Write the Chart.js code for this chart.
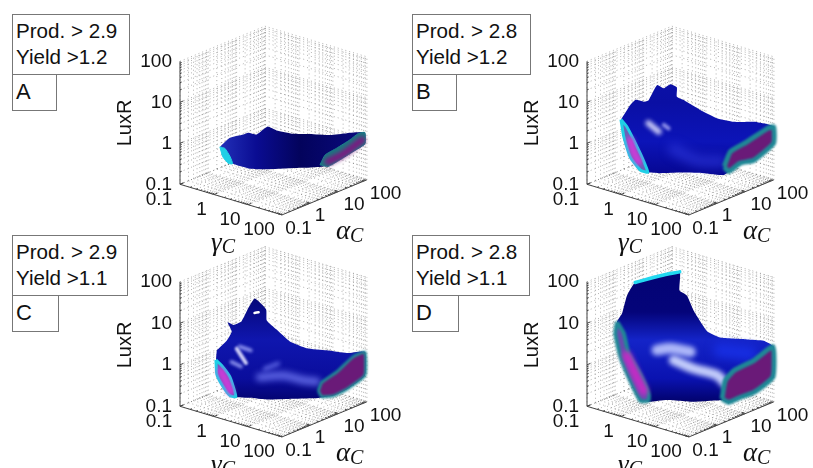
<!DOCTYPE html>
<html>
<head>
<meta charset="utf-8">
<script src="https://cdn.jsdelivr.net/npm/chart.js@4"></script>
<style>
html, body { margin: 0; background: #fff; }
#page { position: relative; width: 813px; height: 468px; overflow: hidden; font-family: "Liberation Sans", sans-serif; color: #111; }
canvas { position: absolute; filter: blur(0.35px); }
.box { position: absolute; box-sizing: border-box; border: 1px solid #777; background: #fff; font-size: 20.6px; line-height: 26px; padding: 3px 0 0 3px; white-space: nowrap; }
.tag { font-size: 22px; padding-top: 4px; }
</style>
</head>
<body>
<div id="page"></div>
<script>
// all surface numbers are log10 of the value
const gammaTicks = [0.1, 1, 10, 100];
const alphaTicks = [0.1, 1, 10, 100];
const luxRTicks = [0.1, 1, 10, 100];

// panel A
const bodyA_gamma = [-1.07, -.78, -.39, -.24, .01, .33, .59, 1.08, 1.57, .91, 1.41, 1.94, 1.94, 1.41, 1.01, .67, 1.28, .30, -.19, -.73, -.93];
const bodyA_alpha = [.5, .5, .5, .5, .5, .5, .5, .5, .5, 2, 2, 2, 2, 2, 2, 2, .5, .5, .5, .5, .5];
const bodyA_luxR = [-.53, -.24, -.06, .02, .04, .31, .28, .32, .44, -.18, -.01, .14, -.14, -.54, -.84, -1.01, -.46, -.74, -.85, -.85, -.74];
const rightCapA_gamma = [.62, .77, 1.11, 1.5, 1.75, 1.94, 1.94, 1.6, 1.21, .86];
const rightCapA_luxR = [-.98, -.70, -.45, -.15, .07, .14, -.14, -.41, -.71, -.96];
const rightCoreA_gamma = [.86, 1.31, 1.85];
const rightCoreA_luxR = [-.84, -.54, -.07];
const leftCapA_alpha = [.41, .59, .77, .86, .71, .51];
const leftCapA_luxR = [-.49, -.58, -.83, -1.03, -.98, -.76];

// panel B
const bodyB_gamma = [-.83, -.56, -.41, -.16, -.02, .23, .42, .62, .81, .81, 1.01, 1.21, 1.5, 1.99, .82, 1.41, 1.8, 1.99, 1.99, 1.41, 1.01, 1.77, 1.08, .49, -.09, -.49, -.88, -.75];
const bodyB_alpha = [0, 0, 0, 0, 0, 0, 0, 0, 0, 0, 0, 0, 0, 0, 2, 2, 2, 2, 2, 2, 2, .5, .5, .5, .5, .5, .5, 0];
const bodyB_luxR = [.34, .76, .92, .94, 1.01, 1.44, 1.41, 1.56, 1.53, 1.30, 1.27, 1.22, 1.15, 1.07, .12, .27, .31, .29, -.11, -.67, -.84, -.51, -.63, -.77, -.93, -1, -.89, -.14];
const rightCapB_gamma = [.54, .72, 1.21, 1.8, 1.99, 1.99, 1.41, 1.01, .67];
const rightCapB_luxR = [-1.04, -.63, -.27, .2, .29, -.11, -.67, -.84, -1.13];
const leftCapB_gamma = [-1, -1, -1, -1, -.46, -.68, -1, -1];
const leftCapB_alpha = [.2, .41, .65, .94, .5, .5, .53, .3];
const leftCapB_luxR = [.24, 0, -.39, -.89, -1, -1, -.77, -.21];
const leftCoreB_alpha = [.53, .65, .83];
const leftCoreB_luxR = [-.36, -.68, -.97];
const glowB1_gamma = [-.44, -.14];
const glowB1_luxR = [.2, .07];
const glowB2_gamma = [.01, .15];
const glowB2_luxR = [.27, .22];
const bandB_gamma = [.3, 1, 1.7];
const bandB_luxR = [-.25, -.35, -.2];

// panel C
const bodyC_gamma = [-.75, -.46, -.31, -.43, -.26, -.02, .18, .37, .7, .72, 1.01, 1.4, 1.89, .82, 1.41, 1.94, 1.94, 1.41, 1.01, 1.82, 1.08, .3, -.19, -.21, -.61, -.77];
const bodyC_alpha = [0, 0, 0, 0, 0, 0, 0, 0, 0, 0, 0, 0, 0, 2, 2, 2, 2, 2, 2, .5, .5, .5, .5, 0, 0, 0];
const bodyC_luxR = [.13, .43, .69, .88, .86, 1.01, 1.38, 1.65, 1.47, 1.21, 1.06, .87, .83, -.05, .03, .19, -.38, -.84, -1.08, -.53, -.73, -.94, -1.02, -.86, -.56, -.12];
const rightCapC_gamma = [.57, .67, 1.11, 1.6, 1.94, 1.94, 1.41, 1.01, .67];
const rightCapC_luxR = [-1.09, -.86, -.5, -.01, .18, -.38, -.84, -1.1, -1.2];
const leftCapC_gamma = [-1, -1, -1, -.19, -.36, -1, -1];
const leftCapC_alpha = [.27, .47, .77, 0, 0, .47, .3];
const leftCapC_luxR = [-.24, -.43, -.8, -.85, -.87, -.88, -.59];
const leftCoreC_gamma = [-1, -1, -.34];
const leftCoreC_alpha = [.44, .65, 0];
const leftCoreC_luxR = [-.56, -.89, -.76];
const holeC_gamma = [.36, .48];
const holeC_luxR = [1.30, 1.35];
const glowC1_gamma = [-.58, -.31];
const glowC1_luxR = [.07, -.21];
const glowC2_gamma = [-.49, -.17];
const glowC2_luxR = [.14, .13];
const glowC3_gamma = [-.73, -.46];
const glowC3_luxR = [-.29, -.33];
const glowC4_gamma = [.25, .64];
const glowC4_luxR = [-.21, .01];
const bandC_gamma = [.1, .79, 1.38, 1.77];
const bandC_luxR = [-.45, -.24, -.21, -.15];

// panel D
const bodyD_gamma = [-.95, -.8, -.66, -.15, 0, .17, .89, 1.11, 1.31, 1.7, .42, 1.21, 1.7, 1.99, 1.99, 1.41, 1.43, 1.92, 1.72, .89, .1, -.02, -.31, -.66, -.95];
const bodyD_alpha = [0, 0, 0, -.32, .39, .87, 0, 0, 0, 0, 2, 2, 2, 2, 2, 2, 1.5, .5, .5, .5, .5, 0, 0, 0, 0];
const bodyD_luxR = [.78, 1.01, 1.46, 2, 2, 2, 1.97, 1.9, 1.58, 1.19, .16, .31, .4, .33, -.4, -.92, -.89, -.61, -.61, -.85, -1, -.93, -.9, -.41, .49];
const topEdgeD_gamma = [-.15, 0, .17];
const topEdgeD_alpha = [-.32, .39, .87];
const topEdgeD_luxR = [2, 2, 2];
const rightCapD_gamma = [.89, .57, .82, 1.41, 1.97, 1.97, 1.41, 1.43, 1.92];
const rightCapD_alpha = [1.5, 2, 2, 2, 2, 2, 2, 1.5, .5];
const rightCapD_luxR = [-1.06, -.84, -.54, -.15, .32, -.41, -.92, -.89, -.61];
const leftCapD_gamma = [-1, -1, -1, -1, -.02, -.02, -.26, -1, -1, -1];
const leftCapD_alpha = [.06, .3, .47, .88, 0, 0, 0, .53, .18, 0];
const leftCapD_luxR = [.74, .39, -.15, -.75, -.74, -.9, -.97, -.82, -.14, .47];
const leftCoreD_gamma = [-1, -1, -.16];
const leftCoreD_alpha = [.41, .71, 0];
const leftCoreD_luxR = [-.17, -.7, -.7];
const glowD1_gamma = [-.19, .2, .79];
const glowD1_luxR = [.13, .27, .33];
const glowD2_gamma = [.3, .89, 1.57, 1.82];
const glowD2_luxR = [.01, -.05, -.04, -.18];
const bandD_gamma = [.42, 1.31];
const bandD_luxR = [-.15, -.01];

const minorSteps = [1, 2, 3, 4, 5, 6, 7, 8, 9];
const gammaStep = [34, 10.2];   // px per decade on screen
const alphaStep = [28.3, -11.7];

function project(logG, logA, logL, zPx) {
    const g = logG + 1, a = logA + 1;
    return {
        x: gammaStep[0] * g + alphaStep[0] * a,
        y: Math.pow(10, logL - (gammaStep[1] * g + alphaStep[1] * a) / zPx)
    };
}

function points3d(g, a, l, zPx, closed) {
    const n = Math.max(Array.isArray(g) ? g.length : 0, Array.isArray(a) ? a.length : 0);
    const out = [];
    for (let i = 0; i < n; i++) {
        out.push(project(Array.isArray(g) ? g[i] : g, Array.isArray(a) ? a[i] : a, l[i], zPx));
    }
    if (closed) out.push(out[0]);
    return out;
}

function gridPoints(zPx) {
    const stops = [];
    [-1, 0, 1].forEach(d => minorSteps.forEach(m => stops.push(d + Math.log10(m))));
    stops.push(2);
    const pts = [];
    const seg = (p, q) => {
        pts.push(project(...p, zPx), project(...q, zPx), { x: NaN, y: NaN });
    };
    stops.forEach(v => {
        seg([-1, v, -1], [-1, v, 2]);
        seg([-1, -1, v], [-1, 2, v]);
        seg([v, 2, -1], [v, 2, 2]);
        seg([-1, 2, v], [2, 2, v]);
        seg([v, -1, -1], [v, 2, -1]);
        seg([-1, v, -1], [2, v, -1]);
    });
    return pts;
}

function axisPoints(zPx) {
    const pts = [];
    const seg = (p, q) => {
        pts.push(project(...p, zPx), project(...q, zPx), { x: NaN, y: NaN });
    };
    seg([-1, -1, -1], [-1, -1, 2]);
    seg([-1, -1, -1], [2, -1, -1]);
    seg([2, -1, -1], [2, 2, -1]);
    [-1, 0, 1].forEach(d => minorSteps.forEach(m => {
        const v = d + Math.log10(m), len = m === 1 ? .12 : .06;
        seg([-1, -1, v], [-1, -1 + len, v]);
        seg([v, -1, -1], [v, -1 + len, -1]);
        seg([2, v, -1], [2 - len, v, -1]);
    }));
    return pts;
}

function fillShape(data, color, border, width, blur) {
    return { data, showLine: true, fill: 'shape', backgroundColor: color, borderColor: border || 'transparent',
        borderWidth: width || 0, pointRadius: 0, tension: .15, blur: blur || 0, clip: false };
}

function stroke(data, color, width, blur) {
    return { data, showLine: true, fill: false, borderColor: color, borderWidth: width, pointRadius: 0,
        tension: .3, borderCapStyle: 'round', blur: blur || 0, clip: false };
}

// gradient over the surface, vertical or horizontal, in canvas pixels
function surfaceGradient(stops, horizontal) {
    return ctx => {
        const chart = ctx.chart;
        if (!chart.chartArea) return stops[0][1];
        const a = chart.chartArea;
        const g = horizontal
            ? chart.ctx.createLinearGradient(a.left + 40, 0, a.left + 186, 0)
            : chart.ctx.createLinearGradient(0, 25, 0, 180);
        stops.forEach(s => g.addColorStop(s[0], s[1]));
        return g;
    };
}

const CYAN = '#1fcfe6', TEAL = '#1f8896', PURPLE = '#6a1a78', MAGENTA = '#cf3ad8', GLOW = 'rgba(225,225,255,.9)';

const panels = [
    {
        left: 110, top: 0, zPx: 41,
        layers: z => [
            fillShape(points3d(bodyA_gamma, bodyA_alpha, bodyA_luxR, z, true),
                surfaceGradient([[0, '#2230b8'], [.25, '#0a0c92'], [.55, '#03035c'], [1, '#0a0a80']], true)),
            fillShape(points3d(rightCapA_gamma, 2, rightCapA_luxR, z, true), '#1d7480', '#1d7f8c', 1),
            stroke(points3d(rightCoreA_gamma, 2, rightCoreA_luxR, z), '#7a1a80', 7, 2),
            fillShape(points3d(-1, leftCapA_alpha, leftCapA_luxR, z, true), CYAN, CYAN, 1)
        ]
    },
    {
        left: 517, top: 0, zPx: 41,
        layers: z => [
            fillShape(points3d(bodyB_gamma, bodyB_alpha, bodyB_luxR, z, true),
                surfaceGradient([[0, '#0d14ac'], [.5, '#0a0fa4'], [.75, '#0c14b8'], [1, '#05058c']])),
            stroke(points3d(bandB_gamma, .5, bandB_luxR, z), 'rgba(50,60,225,.55)', 12, 5),
            stroke(points3d(glowB1_gamma, .5, glowB1_luxR, z), GLOW, 6, 2),
            stroke(points3d(glowB2_gamma, .5, glowB2_luxR, z), 'rgba(190,190,255,.75)', 4, 1.5),
            fillShape(points3d(rightCapB_gamma, 2, rightCapB_luxR, z, true), PURPLE, TEAL, 5, 1),
            fillShape(points3d(leftCapB_gamma, leftCapB_alpha, leftCapB_luxR, z, true), '#6a60b8', CYAN, 3, .6),
            stroke(points3d(-1, leftCoreB_alpha, leftCoreB_luxR, z), MAGENTA, 7, 2)
        ]
    },
    {
        left: 110, top: 222, zPx: 41.5,
        layers: z => [
            fillShape(points3d(bodyC_gamma, bodyC_alpha, bodyC_luxR, z, true),
                surfaceGradient([[0, '#03036c'], [.35, '#06087c'], [.6, '#0f16ae'], [.85, '#0a0d9c'], [1, '#03036e']])),
            stroke(points3d(bandC_gamma, .5, bandC_luxR, z), 'rgba(120,130,250,.75)', 8, 3),
            stroke(points3d(glowC1_gamma, .5, glowC1_luxR, z), GLOW, 4, 1.2),
            stroke(points3d(glowC2_gamma, .5, glowC2_luxR, z), 'rgba(170,175,255,.75)', 4, 1.5),
            stroke(points3d(glowC3_gamma, .5, glowC3_luxR, z), 'rgba(170,175,255,.75)', 4, 1.5),
            stroke(points3d(glowC4_gamma, .5, glowC4_luxR, z), 'rgba(120,130,250,.75)', 4, 2),
            stroke(points3d(holeC_gamma, 0, holeC_luxR, z), '#fff', 2.5),
            fillShape(points3d(rightCapC_gamma, 2, rightCapC_luxR, z, true), PURPLE, TEAL, 3, .8),
            fillShape(points3d(leftCapC_gamma, leftCapC_alpha, leftCapC_luxR, z, true), '#7a55c0', CYAN, 3, .6),
            stroke(points3d(leftCoreC_gamma, leftCoreC_alpha, leftCoreC_luxR, z), MAGENTA, 7, 2)
        ]
    },
    {
        left: 517, top: 222, zPx: 41.5,
        layers: z => [
            fillShape(points3d(bodyD_gamma, bodyD_alpha, bodyD_luxR, z, true),
                surfaceGradient([[0, '#030370'], [.42, '#04047a'], [.6, '#1424c8'], [.85, '#0a12b0'], [1, '#02026c']])),
            stroke(points3d(bandD_gamma, 2, bandD_luxR, z), 'rgba(25,50,235,.8)', 14, 5),
            stroke(points3d(glowD1_gamma, .5, glowD1_luxR, z), 'rgba(190,200,255,.9)', 11, 2.5),
            stroke(points3d(glowD2_gamma, .5, glowD2_luxR, z), 'rgba(205,215,255,.95)', 10, 2.5),
            stroke(points3d(topEdgeD_gamma, topEdgeD_alpha, topEdgeD_luxR, z), '#22d8f0', 3.5),
            fillShape(points3d(rightCapD_gamma, rightCapD_alpha, rightCapD_luxR, z, true), PURPLE, TEAL, 5, 1),
            fillShape(points3d(leftCapD_gamma, leftCapD_alpha, leftCapD_luxR, z, true), '#6a4ab0', TEAL, 4, .8),
            stroke(points3d(leftCoreD_gamma, leftCoreD_alpha, leftCoreD_luxR, z), '#c22cc4', 9, 2.5)
        ]
    }
];

const boxes = [
    { left: 12, top: 14, w: 118, h: 60, text: 'Prod. &gt; 2.9<br>Yield &gt;1.2', tagTop: 74, tagW: 45, tagH: 37, tag: 'A' },
    { left: 412, top: 14, w: 119, h: 60, text: 'Prod. &gt; 2.8<br>Yield &gt;1.2', tagTop: 74, tagW: 45, tagH: 37, tag: 'B' },
    { left: 12, top: 235, w: 116, h: 60, text: 'Prod. &gt; 2.9<br>Yield &gt;1.1', tagTop: 295, tagW: 47, tagH: 37, tag: 'C' },
    { left: 412, top: 235, w: 118, h: 60, text: 'Prod. &gt; 2.8<br>Yield &gt;1.1', tagTop: 295, tagW: 47, tagH: 37, tag: 'D' }
];

// tick text offsets from the axis point, px
const gammaLabelOffset = [[-21, 15.5], [-12.5, 15], [-18, 14.6], [-23, 14.4]];
const alphaLabelOffset = [[16.5, 13.4], [9.7, 12.6], [15.4, 13.3], [18.6, 13.7]];

const softBlur = {
    id: 'softBlur',
    beforeDatasetDraw(chart, args) {
        const b = chart.data.datasets[args.index].blur;
        if (b) chart.ctx.filter = 'blur(' + b + 'px)';
    },
    afterDatasetDraw(chart) {
        chart.ctx.filter = 'none';
    }
};

const axisText = {
    id: 'axisText',
    afterDraw(chart, args, opts) {
        const { ctx, scales: { x, y } } = chart;
        const z = opts.zPx;
        const put = (p, off) => [x.getPixelForValue(p.x) + off[0], y.getPixelForValue(p.y) + off[1]];
        ctx.save();
        ctx.fillStyle = '#111';
        ctx.textAlign = 'center';
        ctx.textBaseline = 'middle';
        ctx.font = '19px "Liberation Sans"';
        gammaTicks.forEach((t, i) => {
            const pos = put(project(Math.log10(t), -1, -1, z), gammaLabelOffset[i]);
            ctx.fillText(String(t), pos[0], pos[1]);
        });
        alphaTicks.forEach((t, i) => {
            const pos = put(project(2, Math.log10(t), -1, z), alphaLabelOffset[i]);
            ctx.fillText(String(t), pos[0], pos[1]);
        });
        const symbol = (big, p, off) => {
            const pos = put(p, off);
            ctx.textAlign = 'left';
            ctx.font = 'italic 27px "Liberation Serif"';
            ctx.fillText(big, pos[0] - 14, pos[1]);
            const w = ctx.measureText(big).width;
            ctx.font = 'italic 20px "Liberation Serif"';
            ctx.fillText('C', pos[0] - 14 + w, pos[1] + 4);
        };
        symbol('γ', project(.5, -1, -1, z), [-6, 44]);
        symbol('α', project(2, .5, -1, z), [25.5, 35]);
        ctx.restore();
    }
};

const page = document.getElementById('page');

boxes.forEach(b => {
    const top = document.createElement('div');
    top.className = 'box';
    top.style.cssText = `left:${b.left}px;top:${b.top}px;width:${b.w}px;height:${b.h + 1}px`;
    top.innerHTML = b.text;
    page.appendChild(top);
    const tag = document.createElement('div');
    tag.className = 'box tag';
    tag.style.cssText = `left:${b.left}px;top:${b.tagTop}px;width:${b.tagW}px;height:${b.tagH}px`;
    tag.textContent = b.tag;
    page.appendChild(tag);
});

panels.forEach(p => {
    const canvas = document.createElement('canvas');
    canvas.width = 300;
    canvas.height = 256;
    canvas.style.left = p.left + 'px';
    canvas.style.top = p.top + 'px';
    page.appendChild(canvas);

    const z = p.zPx;
    const axisBottom = 246;
    const logMax = -1 + 184.3 / z;
    const logMin = -1 - (axisBottom - 184.3) / z;

    const layers = [
        { data: gridPoints(z), showLine: true, fill: false, borderColor: 'rgba(50,50,50,.55)', borderWidth: .7,
            borderDash: [1, 3], pointRadius: 0, tension: 0, clip: false },
        { data: axisPoints(z), showLine: true, fill: false, borderColor: '#444', borderWidth: 1,
            pointRadius: 0, tension: 0, clip: false }
    ].concat(p.layers(z));

    new Chart(canvas, {
        type: 'scatter',
        data: { datasets: layers.reverse() },
        plugins: [softBlur, axisText],
        options: {
            responsive: false,
            animation: false,
            events: [],
            layout: { padding: { bottom: 10 } },
            plugins: { legend: { display: false }, tooltip: { enabled: false }, axisText: { zPx: z } },
            scales: {
                x: { type: 'linear', display: false, min: 0, max: 230 },
                y: {
                    type: 'logarithmic',
                    min: Math.pow(10, logMin),
                    max: Math.pow(10, logMax),
                    afterBuildTicks: s => { s.ticks = luxRTicks.map(v => ({ value: v })); },
                    afterFit: s => { s.width = 70; s.paddingTop = 0; s.paddingBottom = 0; },
                    grid: { display: false, drawTicks: false },
                    border: { display: false },
                    ticks: { color: '#111', padding: 8, autoSkip: false, maxRotation: 0,
                        font: { family: 'Liberation Sans', size: 19 }, callback: v => String(v) },
                    title: { display: true, text: 'LuxR', color: '#111', padding: { top: 3, bottom: 0 },
                        font: { family: 'Liberation Sans', size: 20 } }
                }
            }
        }
    });
});
</script>
</body>
</html>
